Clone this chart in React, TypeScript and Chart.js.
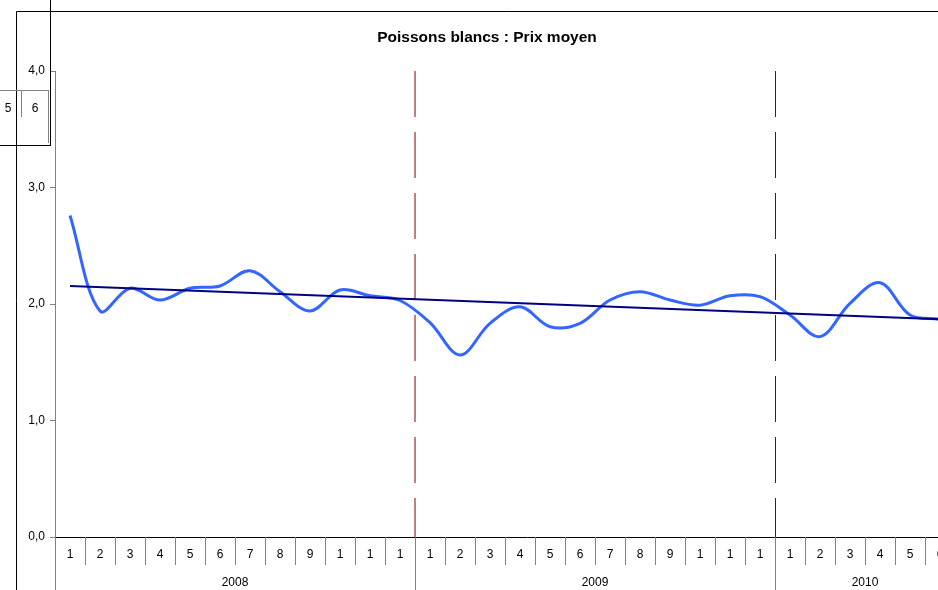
import React, { useEffect, useRef } from "react";
import { Chart, registerables } from "chart.js";

Chart.register(...registerables);

const TITLE = "Poissons blancs : Prix moyen";
const YEARS = ["2008", "2009", "2010"];
const MONTHS_PER_YEAR = [12, 12, 6];
const MONTH_LABELS = [
  "1", "2", "3", "4", "5", "6", "7", "8", "9", "1", "1", "1",
  "1", "2", "3", "4", "5", "6", "7", "8", "9", "1", "1", "1",
  "1", "2", "3", "4", "5", "6",
];
const PRICE = [
  2.76, 1.94, 2.135, 2.034, 2.135, 2.155, 2.286, 2.106, 1.94, 2.12, 2.07, 2.03,
  1.84, 1.562, 1.834, 1.977, 1.805, 1.834, 2.034, 2.106, 2.034, 1.99, 2.07, 2.063,
  1.905, 1.72, 2.006, 2.183, 1.905, 1.87,
];
const TREND_ENDS = [2.155, 1.87];
const Y_MIN = 0;
const Y_MAX = 4;
const Y_STEP = 1;
const SIDE_LABELS = ["5", "6"];

const FONT = "'Liberation Sans', Arial, sans-serif";

const decorPlugin = {
  id: "decor",
  beforeDatasetsDraw(chart: any) {
    const { ctx, chartArea, scales } = chart;
    const x = scales.x;
    ctx.save();
    ctx.strokeStyle = "#800000";
    ctx.lineWidth = 1;
    ctx.setLineDash([46, 15]);
    let acc = 0;
    for (let y = 0; y < MONTHS_PER_YEAR.length - 1; y++) {
      acc += MONTHS_PER_YEAR[y];
      let px = (x.getPixelForValue(acc - 1) + x.getPixelForValue(acc)) / 2;
      if (y === 1) px += 0.5;
      ctx.beginPath();
      ctx.moveTo(px, chartArea.top);
      ctx.lineTo(px, chartArea.bottom);
      ctx.stroke();
    }
    ctx.restore();
  },
  afterDraw(chart: any) {
    const { ctx, chartArea, scales } = chart;
    const x = scales.x;
    const n = MONTH_LABELS.length;
    const half = (x.getPixelForValue(1) - x.getPixelForValue(0)) / 2;
    const bottom = chartArea.bottom;
    const H = chart.height;
    ctx.save();
    // x axis line
    ctx.strokeStyle = "#000000";
    ctx.lineWidth = 1;
    ctx.beginPath();
    ctx.moveTo(chartArea.left, bottom + 0.5);
    ctx.lineTo(chart.width, bottom + 0.5);
    ctx.stroke();
    // y axis extension
    ctx.strokeStyle = "#808080";
    ctx.beginPath();
    ctx.moveTo(chartArea.left + 0.5, bottom);
    ctx.lineTo(chartArea.left + 0.5, H);
    ctx.stroke();
    // month separators
    const yearStarts = new Set<number>();
    let acc = 0;
    for (const m of MONTHS_PER_YEAR) {
      yearStarts.add(acc);
      acc += m;
    }
    yearStarts.add(acc);
    for (let k = 1; k <= n; k++) {
      const px = Math.round(x.getPixelForValue(k - 1) + half) + 0.5;
      ctx.beginPath();
      ctx.moveTo(px, bottom);
      ctx.lineTo(px, yearStarts.has(k) ? H : bottom + 28);
      ctx.stroke();
    }
    // month labels
    ctx.fillStyle = "#000000";
    ctx.font = `12px ${FONT}`;
    ctx.textAlign = "center";
    ctx.textBaseline = "middle";
    for (let i = 0; i < n; i++) {
      ctx.fillText(MONTH_LABELS[i], x.getPixelForValue(i), bottom + 18);
    }
    // year labels
    acc = 0;
    for (let y = 0; y < YEARS.length; y++) {
      const a = x.getPixelForValue(acc) - half;
      const b = x.getPixelForValue(acc + MONTHS_PER_YEAR[y] - 1) + half;
      ctx.fillText(YEARS[y], (a + b) / 2, bottom + 46);
      acc += MONTHS_PER_YEAR[y];
    }
    // title
    ctx.font = `bold 15.5px ${FONT}`;
    ctx.fillText(TITLE, 487, 38);
    // frame lines of surrounding objects
    ctx.strokeStyle = "#000000";
    ctx.beginPath();
    ctx.moveTo(16.5, 11.5);
    ctx.lineTo(chart.width, 11.5);
    ctx.moveTo(16.5, 11.5);
    ctx.lineTo(16.5, H);
    ctx.moveTo(50.5, 0);
    ctx.lineTo(50.5, 145);
    ctx.moveTo(0, 145.5);
    ctx.lineTo(51, 145.5);
    ctx.stroke();
    ctx.strokeStyle = "#808080";
    ctx.beginPath();
    ctx.moveTo(0, 90.5);
    ctx.lineTo(49, 90.5);
    ctx.moveTo(21.5, 90);
    ctx.lineTo(21.5, 117);
    ctx.moveTo(48.5, 90);
    ctx.lineTo(48.5, 143);
    ctx.stroke();
    ctx.fillStyle = "#000000";
    ctx.font = `12px ${FONT}`;
    ctx.fillText(SIDE_LABELS[0], 8, 109);
    ctx.fillText(SIDE_LABELS[1], 35, 109);
    ctx.restore();
  },
};

export default function App() {
  const ref = useRef<HTMLCanvasElement | null>(null);
  useEffect(() => {
    if (!ref.current) return;
    const n = MONTH_LABELS.length;
    const trend = MONTH_LABELS.map((_, i) =>
      i === 0 ? TREND_ENDS[0] : i === n - 1 ? TREND_ENDS[1] : null
    );
    const chart = new Chart(ref.current, {
      type: "line",
      data: {
        labels: MONTH_LABELS.map((m, i) => `${i}-${m}`),
        datasets: [
          {
            label: "Tendance",
            data: trend,
            borderColor: "#000080",
            borderWidth: 2,
            pointRadius: 0,
            spanGaps: true,
            tension: 0,
          },
          {
            label: "Prix moyen",
            data: PRICE,
            borderColor: "#3366FF",
            borderWidth: 3,
            pointRadius: 0,
            tension: 0.35,
          },
        ],
      },
      options: {
        animation: false,
        responsive: false,
        layout: { padding: { left: 0, top: 71, right: 45, bottom: 53 } },
        plugins: {
          legend: { display: false },
          tooltip: { enabled: false },
          title: { display: false },
        },
        scales: {
          x: {
            type: "category",
            display: false,
            offset: true,
          },
          y: {
            min: Y_MIN,
            max: Y_MAX,
            afterFit: (s: any) => {
              s.width = 55;
            },
            border: { display: true, color: "#808080", width: 1 },
            grid: {
              drawOnChartArea: false,
              drawTicks: true,
              tickLength: 5,
              color: "#808080",
            },
            ticks: {
              stepSize: Y_STEP,
              padding: 5,
              color: "#000000",
              font: { family: FONT, size: 12 },
              callback: (v: any) => Number(v).toFixed(1).replace(".", ","),
            },
          },
        },
      },
      plugins: [decorPlugin],
    });
    return () => chart.destroy();
  }, []);
  return (
    <div
      style={{
        position: "absolute",
        left: 0,
        top: 0,
        width: 938,
        height: 590,
        overflow: "hidden",
        background: "#ffffff",
      }}
    >
      <canvas ref={ref} width={1000} height={590} style={{ display: "block" }} />
    </div>
  );
}
